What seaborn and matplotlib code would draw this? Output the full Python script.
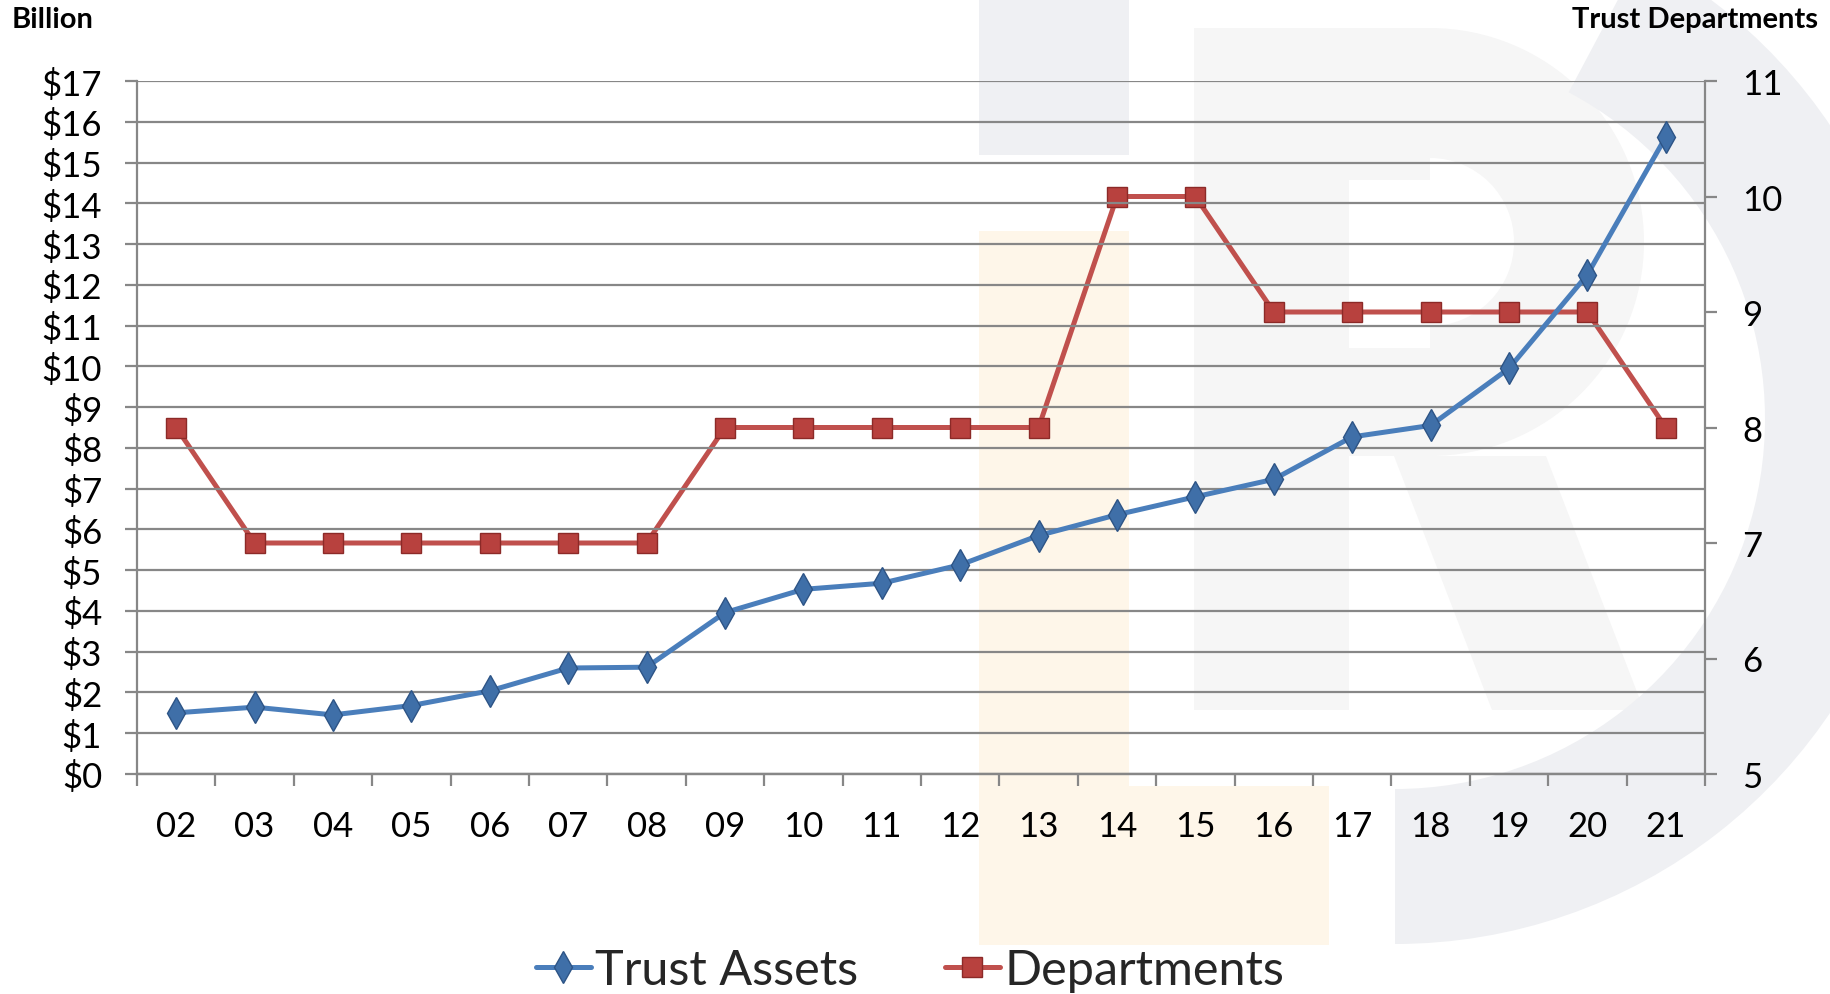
import numpy as np
import pandas as pd
import matplotlib
matplotlib.use("Agg")
import matplotlib.pyplot as plt
import seaborn as sns
from matplotlib.patches import Rectangle, Wedge, Polygon
from matplotlib.transforms import IdentityTransform
from matplotlib.lines import Line2D

# ---------------- data ----------------
years = ["02", "03", "04", "05", "06", "07", "08", "09", "10", "11",
         "12", "13", "14", "15", "16", "17", "18", "19", "20", "21"]
trust_assets = [1.50, 1.64, 1.45, 1.68, 2.04, 2.60, 2.62, 3.96, 4.53, 4.68,
                5.13, 5.85, 6.36, 6.80, 7.23, 8.27, 8.55, 9.95, 12.25, 15.63]
departments = [8, 7, 7, 7, 7, 7, 7, 8, 8, 8,
               8, 8, 10, 10, 9, 9, 9, 9, 9, 8]
left_ticks = list(range(0, 18))
left_tick_labels = [f"${v}" for v in left_ticks]
right_ticks = list(range(5, 12))
series_names = ["Trust Assets", "Departments"]

df = pd.DataFrame({"pos": np.arange(len(years)), "year": years,
                   "assets": trust_assets, "depts": departments})

# ---------------- style ----------------
sns.set_theme(style="white")
plt.rcParams['font.family'] = ['Lato', 'DejaVu Sans']

W, H = 1831, 995
fig = plt.figure(figsize=(W / 100, H / 100), dpi=100)
fig.patch.set_facecolor("white")

GRID = "#878787"
BLUE = "#4a7ebb"
RED = "#c0504d"

def fx(x):
    return x / W

def fy(y):
    return 1 - y / H

# ---------------- faint watermark logo (pixel coords) ----------------
idt = IdentityTransform()
GRAY_WM = "#eff0f3"
LIGHT_WM = "#f6f6f6"
ORANGE_WM = "#fef6e9"

def px_rect(x0, y0, x1, y1, color):
    fig.add_artist(Rectangle((x0, H - y1), x1 - x0, y1 - y0, transform=idt,
                             facecolor=color, edgecolor="none", zorder=-10))

# "R" (drawn first, very light)
px_rect(1194, 29, 1349, 711, LIGHT_WM)
px_rect(1349, 29, 1430, 181, LIGHT_WM)
px_rect(1349, 349, 1430, 457, LIGHT_WM)
fig.add_artist(Wedge((1430, H - 243), 214, -90, 90, width=130, transform=idt,
                     facecolor=LIGHT_WM, edgecolor="none", zorder=-10))
fig.add_artist(Polygon([(1394, H - 457), (1546, H - 457), (1644, H - 711), (1492, H - 711)],
                       closed=True, transform=idt, facecolor=LIGHT_WM,
                       edgecolor="none", zorder=-10))
# outer ring
fig.add_artist(Wedge((1395, H - 420), 525, -90, 62, width=155, transform=idt,
                     facecolor=GRAY_WM, edgecolor="none", zorder=-9))
# "I" blocks
px_rect(979, 0, 1129, 156, GRAY_WM)
px_rect(979, 232, 1129, 946, ORANGE_WM)
px_rect(1129, 787, 1329, 946, ORANGE_WM)

# ---------------- axes ----------------
ax = fig.add_axes([fx(137), fy(775), (1705 - 137) / W, (775 - 82) / H])
ax2 = ax.twinx()
ax.set_zorder(ax2.get_zorder() + 1)
ax.patch.set_visible(False)
ax2.patch.set_visible(False)

sns.lineplot(data=df, x="pos", y="depts", ax=ax2, color=RED, linewidth=3.6,
             marker="s", markersize=14, markerfacecolor="#b8413e",
             markeredgecolor="#8c2a28", markeredgewidth=1.0, legend=False)
sns.lineplot(data=df, x="pos", y="assets", ax=ax, color=BLUE, linewidth=3.6,
             marker="d", markersize=16, markerfacecolor="#3f6fa8",
             markeredgecolor="#2d5486", markeredgewidth=1.0, legend=False)

ax.set_xlim(-0.5, len(years) - 0.5)
ax.set_ylim(0, 17)
ax2.set_ylim(5, 11)

ax.set_yticks(left_ticks)
ax.set_yticklabels(left_tick_labels)
ax2.set_yticks(right_ticks)
ax2.set_yticklabels([str(v) for v in right_ticks])

ax.set_xticks(df["pos"])
ax.set_xticklabels(years)
ax.set_xticks(np.arange(-0.5, len(years), 1.0), minor=True)

ax.set_xlabel("")
ax.set_ylabel("")
ax2.set_ylabel("")

ax.yaxis.grid(True, color=GRID, linewidth=1.6)
ax.xaxis.grid(False)
ax2.grid(False)

for a in (ax, ax2):
    a.spines["top"].set_visible(False)
    for s in ("left", "right", "bottom"):
        a.spines[s].set_color(GRID)
        a.spines[s].set_linewidth(1.6)
ax.spines["right"].set_visible(False)
ax2.spines["left"].set_visible(False)

ax.tick_params(axis="y", which="major", left=True, length=8.6, width=1.6,
               color=GRID, direction="out", labelsize=25, pad=16.5,
               labelcolor="black")
ax.tick_params(axis="x", which="major", bottom=True, length=0, labelsize=25,
               pad=26, labelcolor="black")
ax.tick_params(axis="x", which="minor", bottom=True, length=8.6, width=1.6,
               color=GRID, direction="out")
ax2.tick_params(axis="y", which="major", right=True, length=8.6, width=1.6,
                color=GRID, direction="out", labelsize=25, pad=18,
                labelcolor="black")

# ---------------- titles ----------------
fig.text(fx(12), fy(20), "Billion", fontsize=21, fontweight="bold",
         ha="left", va="center", color="black")
fig.text(fx(1818), fy(20), "Trust Departments", fontsize=21, fontweight="bold",
         ha="right", va="center", color="black")

# ---------------- legend ----------------
h_assets = Line2D([], [], color=BLUE, linewidth=3.6, marker="d", markersize=16,
                  markerfacecolor="#3f6fa8", markeredgecolor="#2d5486")
h_depts = Line2D([], [], color=RED, linewidth=3.6, marker="s", markersize=14,
                 markerfacecolor="#b8413e", markeredgecolor="#8c2a28")
fig.legend([h_assets, h_depts], series_names, loc="center",
           bbox_to_anchor=(0.497, fy(971)), ncol=2, frameon=False,
           fontsize=35, handlelength=1.13, handletextpad=0.1,
           columnspacing=1.77)

fig.savefig("out.png", dpi=100)
